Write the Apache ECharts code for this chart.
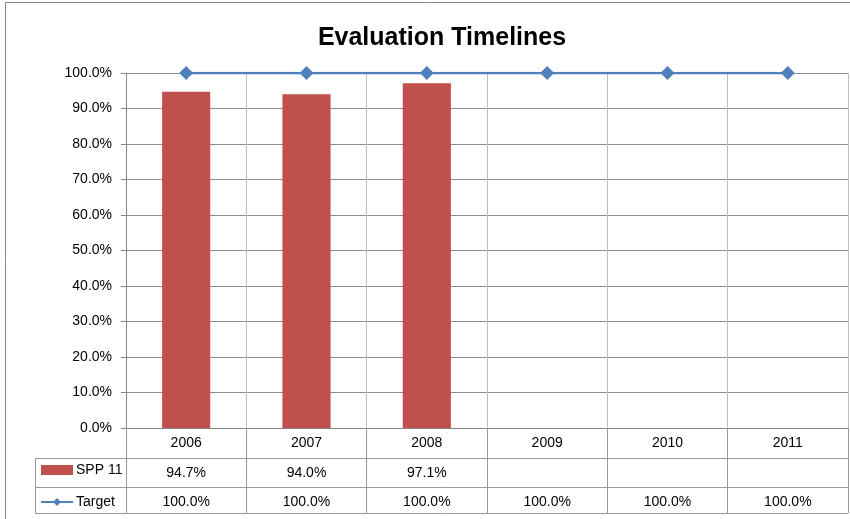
<!DOCTYPE html>
<html><head><meta charset="utf-8">
<script src="https://cdn.jsdelivr.net/npm/echarts@6/dist/echarts.min.js"></script>
<style>html,body{margin:0;padding:0;background:#fff}#c{width:850px;height:519px}</style>
</head><body><div id="c"></div>
<script>
var categories = ['2006','2007','2008','2009','2010','2011'];
var sppValues = [0.947, 0.940, 0.971, null, null, null];
var targetValues = [1.0, 1.0, 1.0, 1.0, 1.0, 1.0];
var yTicks = [0,0.1,0.2,0.3,0.4,0.5,0.6,0.7,0.8,0.9,1.0];

var FONT = '"Liberation Sans", Arial, sans-serif';
var pct = function(v){ return (v == null) ? '' : (v*100).toFixed(1) + '%'; };
var GL = 126, GR = 2, GT = 73, GB = 91;

var chart = echarts.init(document.getElementById('c'), null, {renderer:'canvas'});
chart.setOption({
  animation:false,
  backgroundColor:'#fff',
  textStyle:{fontFamily:FONT},
  title:{text:'Evaluation Timelines', left:437, top:21, textAlign:'center',
    textStyle:{fontFamily:FONT, fontWeight:'bold', fontSize:25, color:'#000'}},
  legend:{orient:'vertical', left:40, top:463, padding:0, itemWidth:32, itemHeight:10, itemGap:18,
    textStyle:{fontFamily:FONT, fontSize:14, color:'#000', padding:[0,0,0,-2]},
    data:[{name:'SPP 11', icon:'rect'},{name:'Target'}]},
  grid:{left:GL, right:GR, top:GT, bottom:GB, containLabel:false},
  xAxis:[
    {type:'category', data:categories, position:'bottom',
     axisLine:{show:true, lineStyle:{color:'#888', width:1}},
     axisTick:{show:true, length:85, lineStyle:{color:'#999'}},
     axisLabel:{show:true, margin:8, fontSize:14, color:'#000', fontFamily:FONT},
     splitLine:{show:true, lineStyle:{color:'#BFBFBF', width:1}}},
    {type:'category', data:categories, position:'bottom', offset:30,
     axisLine:{show:false}, axisTick:{show:false},
     axisLabel:{show:true, margin:8, fontSize:14, color:'#000', fontFamily:FONT,
       formatter:function(v, i){ return pct(sppValues[i]); }}},
    {type:'category', data:categories, position:'bottom', offset:59,
     axisLine:{show:false}, axisTick:{show:false},
     axisLabel:{show:true, margin:8, fontSize:14, color:'#000', fontFamily:FONT,
       formatter:function(v, i){ return pct(targetValues[i]); }}}
  ],
  yAxis:{type:'value', min:0, max:1, interval:0.1,
    axisLine:{show:true, lineStyle:{color:'#888'}},
    axisTick:{show:true, length:5, lineStyle:{color:'#888'}},
    axisLabel:{margin:14, fontSize:14, color:'#000', fontFamily:FONT,
      formatter:function(v){ return pct(v); }},
    splitLine:{show:true, lineStyle:{color:'#8C8C8C', width:1}}},
  series:[
    {name:'SPP 11', type:'bar', xAxisIndex:0, data:sppValues, barWidth:'40%',
     itemStyle:{color:'#C0504D'}},
    {name:'Target', type:'line', xAxisIndex:0, data:targetValues, symbol:'diamond',
     symbolSize:14, lineStyle:{color:'#4F81BD', width:2.5}, itemStyle:{color:'#4F81BD'}}
  ],
  graphic:[
    {type:'rect', shape:{x:5.5, y:2.5, width:900, height:600}, style:{fill:null, stroke:'#888', lineWidth:1}, silent:true},
    {type:'line', shape:{x1:35, y1:458.5, x2:848, y2:458.5}, style:{stroke:'#999', lineWidth:1}},
    {type:'line', shape:{x1:35, y1:487.5, x2:848, y2:487.5}, style:{stroke:'#999', lineWidth:1}},
    {type:'line', shape:{x1:35, y1:513.5, x2:848, y2:513.5}, style:{stroke:'#999', lineWidth:1}},
    {type:'line', shape:{x1:35.5, y1:458, x2:35.5, y2:514}, style:{stroke:'#999', lineWidth:1}}
  ]
});
</script></body></html>
